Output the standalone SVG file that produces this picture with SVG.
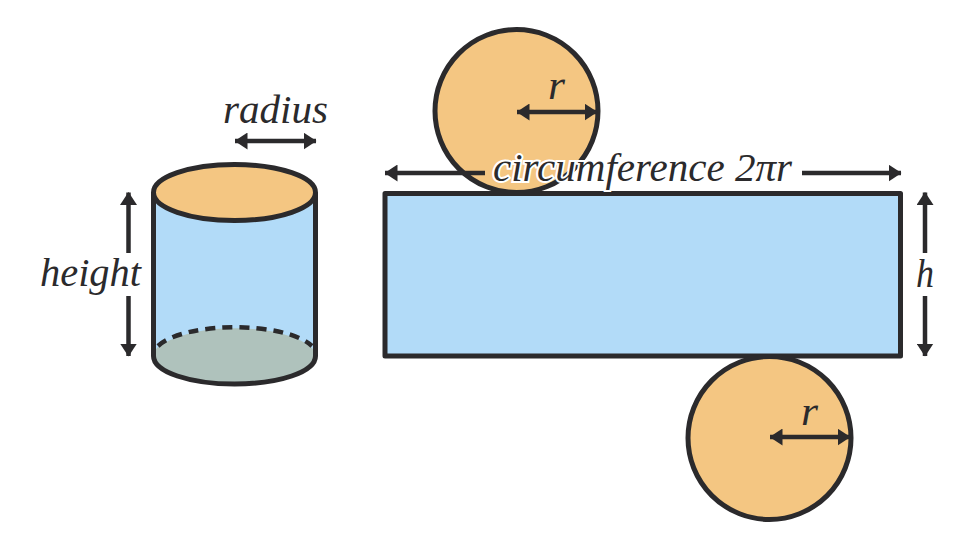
<svg xmlns="http://www.w3.org/2000/svg" width="976" height="549" viewBox="0 0 976 549">
<style>
.s{stroke:#2b2a2c;stroke-width:5;stroke-linejoin:round}
.o{fill:#f4c682}.b{fill:#b2dbf8}
.a{stroke:#2b2a2c;stroke-width:4.500;fill:none;stroke-linecap:butt}
.h{fill:#2b2a2c;stroke:none}
text{font-family:"Liberation Serif","DejaVu Serif",serif;font-style:italic;fill:#2b2a2c;font-size:40px}
</style>
<defs>
<marker id="ah" viewBox="0 0 13 17" refX="12.500" refY="8.500" markerUnits="userSpaceOnUse" markerWidth="13" markerHeight="17" orient="auto-start-reverse"><path class="h" d="M0 0L13 8.500L0 17Z"/></marker>
</defs>
<rect width="976" height="549" fill="#fff"/>
<g id="cylinder">
<path class="b" d="M153.500 192V356H315.500V192Z"/>
<path d="M155 350C185 321 285 321 314 350V356C314 392 155 392 155 356Z" fill="#afc2bc"/>
<path class="s" fill="none" d="M153.500 192.500V356C153.500 372 190 384 234.500 384C279 384 315.500 372 315.500 356V192.500"/>
<path d="M158 346C185 321 285 321 312 346" fill="none" stroke="#2b2a2c" stroke-width="4.500" stroke-dasharray="10 7"/>
<ellipse class="s o" cx="234.500" cy="192.500" rx="81" ry="28"/>
</g>
<g id="circle-top"><circle class="s o" cx="516.500" cy="111" r="81.500"/></g>
<g id="net-rect"><rect class="s b" x="385" y="193.500" width="515.500" height="162.500"/></g>
<g id="circle-bottom"><circle class="s o" cx="769.500" cy="438" r="81.500"/></g>
<g id="connectors">
<path class="a" marker-start="url(#ah)" marker-end="url(#ah)" d="M235 141H316"/>
<path class="a" marker-start="url(#ah)" d="M128.500 192.500V253"/>
<path class="a" marker-end="url(#ah)" d="M128.500 296V356"/>
<path class="a" marker-start="url(#ah)" marker-end="url(#ah)" d="M517 112H597"/>
<path class="a" marker-start="url(#ah)" d="M385 173H485"/>
<path class="a" marker-end="url(#ah)" d="M802 173H901"/>
<path class="a" marker-start="url(#ah)" d="M925 192.500V253"/>
<path class="a" marker-end="url(#ah)" d="M925 296V356"/>
<path class="a" marker-start="url(#ah)" marker-end="url(#ah)" d="M770 437H850"/>
</g>
<g id="labels">
<text x="223" y="123" textLength="105" lengthAdjust="spacingAndGlyphs">radius</text>
<text x="40" y="286" textLength="101" lengthAdjust="spacingAndGlyphs">height</text>
<text x="548" y="99" textLength="17" lengthAdjust="spacingAndGlyphs">r</text>
<text x="801" y="425" textLength="17" lengthAdjust="spacingAndGlyphs">r</text>
<text x="916" y="287" textLength="18" lengthAdjust="spacingAndGlyphs">h</text>
<text x="493" y="181" textLength="299" lengthAdjust="spacingAndGlyphs" style="paint-order:stroke;stroke:#fff;stroke-width:4">circumference 2πr</text>
</g>
</svg>
